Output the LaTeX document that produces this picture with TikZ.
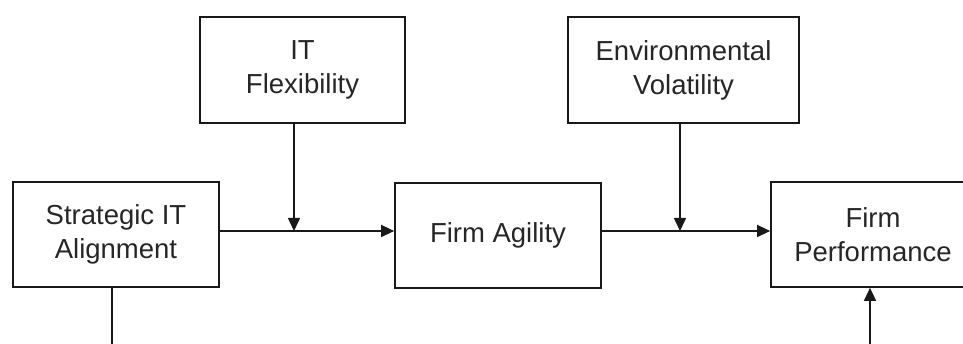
\documentclass[tikz,border=0pt]{standalone}
\usepackage{fontspec}
\setmainfont{Liberation Sans}
\usetikzlibrary{arrows.meta,calc}

\begin{document}
\begin{tikzpicture}[x=1pt,y=-1pt,
    construct/.style={draw=black!90, line width=1.7pt, inner sep=0pt, align=center,
        text=black!85, font=\fontsize{27.5}{34}\selectfont},
    link/.style={draw=black!90, line width=1.5pt},
    pointer/.style={link, -{Triangle[length=13pt,width=12pt]}}]
    \useasboundingbox (0,0) rectangle (963,344);

    % Main chain
    \node[construct, minimum width=206pt, minimum height=105pt] (sia) at (116,234.5) {Strategic IT\\Alignment};
    \node[construct, minimum width=206pt, minimum height=105pt] (fa) at (498,235.5) {Firm Agility};
    \node[construct, minimum width=204pt, minimum height=105pt] (fp) at (873,234.5) {Firm\\Performance};

    % Moderators
    \node[construct, minimum width=205pt, minimum height=106pt] (itf) at (302.5,70) {IT\\Flexibility};
    \node[construct, minimum width=231pt, minimum height=106pt] (ev) at (683.5,70) {Environmental\\Volatility};

    % Junctions on the horizontal arrows
    \coordinate (j1) at (294,231);
    \coordinate (j2) at (680,231);

    \draw[pointer] (sia.east |- j1) -- (fa.west |- j1);
    \draw[pointer] (fa.east |- j2) -- (fp.west |- j2);
    \draw[pointer] (itf.south -| j1) -- (j1);
    \draw[pointer] (ev.south -| j2) -- (j2);

    % Direct path running below the boxes
    \coordinate (down) at (112,350);
    \coordinate (up) at (870,350);
    \draw[link] (sia.south -| down) -- (down);
    \draw[pointer] (up) -- (fp.south -| up);
\end{tikzpicture}
\end{document}
